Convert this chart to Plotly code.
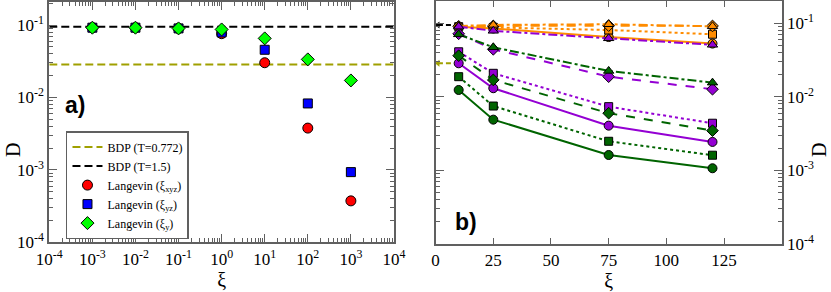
import plotly.graph_objects as go

# ---------------- Panel a data ----------------
xi_a = [1e-3, 1e-2, 1e-1, 1, 10, 100, 1000]
D_xyz = [0.092, 0.092, 0.090, 0.076, 0.0302, 0.00378, 0.000374]
D_yz = [0.092, 0.092, 0.090, 0.079, 0.0456, 0.00828, 0.000933]
D_y = [0.092, 0.092, 0.090, 0.087, 0.0655, 0.0336, 0.0172]
bdp_T0772 = 0.0286
bdp_T15 = 0.0948
xa_line = [1e-4, 1e4]
xa_tickvals = [1e-4, 1e-3, 1e-2, 1e-1, 1, 10, 100, 1000, 1e4]
xa_ticktext = ["10<sup>-4</sup>", "10<sup>-3</sup>", "10<sup>-2</sup>", "10<sup>-1</sup>",
               "10<sup>0</sup>", "10<sup>1</sup>", "10<sup>2</sup>", "10<sup>3</sup>", "10<sup>4</sup>"]
y_tickvals = [1e-4, 1e-3, 1e-2, 1e-1]
y_ticktext = ["10<sup>-4</sup>", "10<sup>-3</sup>", "10<sup>-2</sup>", "10<sup>-1</sup>"]

# ---------------- Panel b data ----------------
xi_b = [10, 25, 75, 120]
orange_circ = [0.090, 0.085, 0.065, 0.053]
orange_sq = [0.090, 0.088, 0.081, 0.071]
orange_dia = [0.091, 0.092, 0.093, 0.092]
orange_tri = [0.092, 0.095, 0.097, 0.091]
purple_circ = [0.0286, 0.0131, 0.00406, 0.00244]
purple_sq = [0.041, 0.0209, 0.00736, 0.00438]
purple_dia = [0.072, 0.0443, 0.0188, 0.0127]
purple_tri = [0.090, 0.079, 0.0625, 0.051]
green_circ = [0.0124, 0.0049, 0.00162, 0.00107]
green_sq = [0.0188, 0.0075, 0.00249, 0.00161]
green_dia = [0.0363, 0.017, 0.0060, 0.00347]
green_tri = [0.0708, 0.0472, 0.0225, 0.0156]
xb_arrow = [1, 8]
xb_tickvals = [0, 25, 50, 75, 100, 125]

OLIVE = "#a0a000"
ORANGE = "#ff8c00"
PURPLE = "#9400d3"
DGREEN = "#006400"
SERIF = "Liberation Serif"

# minor tick positions (decade subdivisions)
minor_x = [m * 10.0 ** e for e in range(-4, 4) for m in range(2, 10)]
minor_y = [m * 10.0 ** e for e in range(-4, 0) for m in range(2, 10)]

fig = go.Figure()

# Panel a
fig.add_trace(go.Scatter(x=xa_line, y=[bdp_T0772] * 2, mode="lines",
                         line=dict(color=OLIVE, width=2, dash="8px,4px"),
                         name="BDP (T=0.772)", xaxis="x", yaxis="y"))
fig.add_trace(go.Scatter(x=xa_line, y=[bdp_T15] * 2, mode="lines",
                         line=dict(color="black", width=2, dash="8px,4px"),
                         name="BDP (T=1.5)", xaxis="x", yaxis="y"))
fig.add_trace(go.Scatter(x=xi_a, y=D_xyz, mode="markers",
                         marker=dict(symbol="circle", size=10, color="#ff0000",
                                     line=dict(color="black", width=1)),
                         name="Langevin (ξ<sub>xyz</sub>)", xaxis="x", yaxis="y"))
fig.add_trace(go.Scatter(x=xi_a, y=D_yz, mode="markers",
                         marker=dict(symbol="square", size=9, color="#0000ff",
                                     line=dict(color="black", width=1)),
                         name="Langevin (ξ<sub>yz</sub>)", xaxis="x", yaxis="y"))
fig.add_trace(go.Scatter(x=xi_a, y=D_y, mode="markers",
                         marker=dict(symbol="diamond", size=10, color="#00ff00",
                                     line=dict(color="black", width=1)),
                         name="Langevin (ξ<sub>y</sub>)", xaxis="x", yaxis="y"))

# Panel b
series_b = [
    (orange_circ, ORANGE, "solid", "circle"),
    (orange_sq, ORANGE, "dot", "square"),
    (orange_dia, ORANGE, "dash", "diamond"),
    (orange_tri, ORANGE, "dashdot", "triangle-up"),
    (purple_circ, PURPLE, "solid", "circle"),
    (purple_sq, PURPLE, "dot", "square"),
    (purple_dia, PURPLE, "dash", "diamond"),
    (purple_tri, PURPLE, "dashdot", "triangle-up"),
    (green_circ, DGREEN, "solid", "circle"),
    (green_sq, DGREEN, "dot", "square"),
    (green_dia, DGREEN, "dash", "diamond"),
    (green_tri, DGREEN, "dashdot", "triangle-up"),
]
for vals, col, dash, sym in series_b:
    fig.add_trace(go.Scatter(x=xi_b, y=vals, mode="lines+markers",
                             line=dict(color=col, width=2, dash=dash),
                             marker=dict(symbol=sym, size=9 if sym != "square" else 8,
                                         color=col, line=dict(color="black", width=1)),
                             showlegend=False, xaxis="x2", yaxis="y2"))

for yv, col in [(bdp_T15, "black"), (bdp_T0772, OLIVE)]:
    fig.add_trace(go.Scatter(x=xb_arrow, y=[yv] * 2, mode="lines",
                             line=dict(color=col, width=2, dash="5px,3px"),
                             showlegend=False, xaxis="x2", yaxis="y2"))
    fig.add_trace(go.Scatter(x=[xb_arrow[0]], y=[yv], mode="markers",
                             marker=dict(symbol="triangle-left", size=6, color=col),
                             showlegend=False, xaxis="x2", yaxis="y2"))

AXCOL = "#606060"
tickfont = dict(family=SERIF, size=17, color="black")
titlefont = dict(family=SERIF, size=20, color="black")
minor_x_cfg = dict(tickmode="array", tickvals=minor_x, ticks="inside", ticklen=4,
                   tickcolor=AXCOL, tickwidth=1, showgrid=False)
minor_y_cfg = dict(tickmode="array", tickvals=minor_y, ticks="inside", ticklen=4,
                   tickcolor=AXCOL, tickwidth=1, showgrid=False)
common = dict(showgrid=False, zeroline=False, ticks="inside", tickcolor=AXCOL, tickwidth=1,
              showline=True, linecolor=AXCOL, linewidth=2, mirror="ticks",
              tickfont=tickfont, automargin=False)

fig.update_layout(
    width=831, height=292,
    margin=dict(l=0, r=0, t=0, b=0),
    paper_bgcolor="white", plot_bgcolor="white",
    xaxis=dict(domain=[0.0593, 0.4741], type="log", range=[-4, 4],
               tickmode="array", tickvals=xa_tickvals, ticktext=xa_ticktext,
               ticklen=8, minor=minor_x_cfg,
               title=dict(text="ξ", font=titlefont, standoff=0), **common),
    yaxis=dict(domain=[0.170, 0.994], type="log", range=[-4, -0.678],
               tickmode="array", tickvals=y_tickvals, ticktext=y_ticktext,
               ticklen=8, minor=minor_y_cfg, **common),
    xaxis2=dict(domain=[0.5242, 0.9407], range=[0, 150],
                tickmode="array", tickvals=xb_tickvals, ticklen=6,
                title=dict(text="ξ", font=titlefont, standoff=0),
                anchor="y2", **common),
    yaxis2=dict(domain=[0.1644, 0.9966], type="log", range=[-4, -0.697], side="right",
                tickmode="array", tickvals=y_tickvals, ticktext=y_ticktext,
                ticklen=8, minor=minor_y_cfg, anchor="x2", **common),
    legend=dict(x=0.0794, y=0.551, xanchor="left", yanchor="top",
                bgcolor="white", bordercolor=AXCOL, borderwidth=1.5,
                font=dict(family=SERIF, size=12, color="black"),
                tracegroupgap=0, itemwidth=30),
    showlegend=True,
    annotations=[
        dict(text="<b>a)</b>", x=0.076, y=0.64, xref="paper", yref="paper",
             showarrow=False, xanchor="left", yanchor="middle",
             font=dict(family="Liberation Sans", size=23, color="black")),
        dict(text="<b>b)</b>", x=0.545, y=0.24, xref="paper", yref="paper",
             showarrow=False, xanchor="left", yanchor="middle",
             font=dict(family="Liberation Sans", size=23, color="black")),
        dict(text="D", x=13 / 831, y=1 - 150 / 292, xref="paper", yref="paper",
             showarrow=False, textangle=-90, xanchor="center", yanchor="middle",
             font=titlefont),
        dict(text="D", x=819 / 831, y=1 - 150 / 292, xref="paper", yref="paper",
             showarrow=False, textangle=-90, xanchor="center", yanchor="middle",
             font=titlefont),
    ],
)

fig.write_html("out.html", config={"displayModeBar": False},
               post_script="document.body.style.margin='0';")
